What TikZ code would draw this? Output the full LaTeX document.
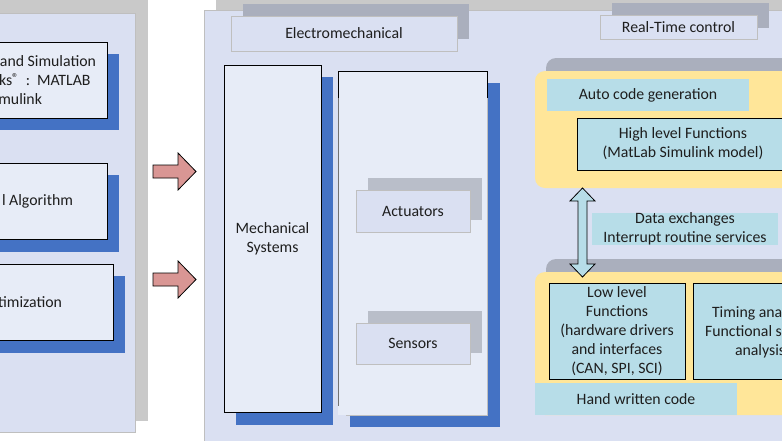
\documentclass[tikz,border=0pt]{standalone}
\usepackage{fontspec}
\setmainfont{Carlito}
\usetikzlibrary{fit}
\definecolor{panel}{HTML}{DAE0F2}
\definecolor{paper}{HTML}{E7ECF7}
\definecolor{pborder}{HTML}{BFBFBF}
\definecolor{bshadow}{HTML}{4472C4}
\definecolor{gshadow}{HTML}{C9C9C9}
\definecolor{lshadow}{HTML}{AAAFBD}
\definecolor{ashadow}{HTML}{B9BEC9}
\definecolor{yel}{HTML}{FFE699}
\definecolor{lblue}{HTML}{B7DDE8}
\definecolor{pinkarrow}{HTML}{D99694}
\definecolor{ink}{HTML}{1E1E1E}
\tikzset{
  base/.style={rectangle, inner sep=0pt, outer sep=0pt},
  gshad/.style={base, fill=gshadow},
  pnl/.style={base, fill=panel, draw=pborder, line width=0.8pt},
  bshad/.style={base, fill=bshadow},
  card/.style={base, fill=paper, draw=black, line width=0.9pt},
  lbl/.style={base, fill=panel, draw=pborder, line width=0.8pt},
  lshad/.style={base, fill=lshadow},
  ashad/.style={base, fill=ashadow},
  ybox/.style={base, fill=yel, rounded corners=10pt},
  yshad/.style={base, fill=lshadow, rounded corners=10pt},
  band/.style={base, fill=lblue},
  fbox/.style={base, fill=lblue, draw=black, line width=0.9pt},
  txt/.style={inner sep=0pt, outer sep=0pt, text=ink, font=\fontsize{15.8}{19}\selectfont, align=center},
  blockarrow/.style={fill=pinkarrow, draw=black, line width=0.8pt, line join=miter},
  dblarrow/.style={fill=lblue, draw=black, line width=0.8pt, line join=miter}
}
\newcommand{\regmark}{\raisebox{3pt}{\fontsize{13}{13}\selectfont ®}}
\begin{document}
\begin{tikzpicture}[x=1pt, y=-1pt]
\useasboundingbox (0,0) rectangle (782,440);
\clip (0,0) rectangle (782,440);
\fill[white] (0,0) rectangle (782,440);

% ---------- left panel ----------
\node[gshad, fit={(-20,-20) (148,421)}] (lsh) {};
\node[pnl, fit={(-20,13) (135,432)}] (lpanel) {};

\node[bshad, fit={(-20,54) (119,130)}] (s1) {};
\node[card, fit={(-20,42) (107,118)}] (b1) {};
\node[bshad, fit={(-20,175) (119,252)}] (s2) {};
\node[card, fit={(-20,163) (107,239)}] (b2) {};
\node[bshad, fit={(-20,276) (125,353)}] (s3) {};
\node[card, fit={(-20,264) (113,340)}] (b3) {};

\node[txt, anchor=base east] (t1a) at (96,66) {and Simulation};
\node[txt, anchor=base west] (t1b) at (-1,85) {ks\regmark\hspace{7pt}:\hspace{7pt}MATLAB};
\node[txt, anchor=base east] (t1c) at (42,104) {mulink};
\node[txt, anchor=base east] (t2) at (73,205.5) {l Algorithm};
\node[txt, anchor=base east] (t3) at (62,307) {timization};

% ---------- arrows between panels ----------
\draw[blockarrow] (153,165) -- (178,165) -- (178,153) -- (196,171.5) -- (178,190) -- (178,178) -- (153,178) -- cycle;
\draw[blockarrow] (153,273) -- (178,273) -- (178,261) -- (196,279.5) -- (178,298) -- (178,286) -- (153,286) -- cycle;

% ---------- right panel ----------
\node[gshad, fit={(216,-20) (800,10)}] (rsh) {};
\node[pnl, fit={(204,10) (800,460)}] (rpanel) {};

\node[lshad, fit={(243,4) (469,39)}] (emsh) {};
\node[lbl, fit={(231,16) (457,51)}] (em) {};
\node[txt] (emt) at (344,33.5) {Electromechanical};

\node[lshad, fit={(612,3) (769,28)}] (rtsh) {};
\node[lbl, fit={(600,15) (757,39)}] (rt) {};
\node[txt] (rtt) at (678.5,27) {Real-Time control};

% mechanical systems
\node[bshad, fit={(236,77) (333,425)}] (mechsh) {};
\node[card, fit={(224,65) (321,412)}] (mech) {};
\node[txt] (mecht) at (272.5,238.5) {Mechanical\\Systems};

% actuators / sensors container
\node[bshad, fit={(350,83) (500,427)}] (contsh) {};
\node[base, fill=paper, fit={(338,71) (487,415)}] (cont) {};
\draw[pborder, line width=0.6pt] (487,98) -- (cont.south east) -- (346,415);
\draw[black, line width=0.9pt] (338,98) -- (cont.north west) -- (cont.north east) -- (487,98);
\draw[black!55, line width=0.9pt] (338,98) -- (338,406);

\node[ashad, fit={(368,178) (482,220)}] (actsh) {};
\node[lbl, fit={(356,190) (470,232)}] (act) {};
\node[txt] (actt) at (413,211) {Actuators};

\node[ashad, fit={(368,311) (482,353)}] (sensh) {};
\node[lbl, fit={(356,323) (470,364)}] (sen) {};
\node[txt] (sent) at (413,343.5) {Sensors};

% ---------- real-time part ----------
\node[yshad, fit={(546,58) (810,176)}] (upsh) {};
\node[ybox, fit={(535,71) (810,188)}] (up) {};
\node[band, fit={(547,79) (749,111)}] (auto) {};
\node[txt] (autot) at (648,95) {Auto code generation};
\node[fbox, fit={(577,118) (789,170)}] (high) {};
\node[txt] (hight) at (683,144) {High level Functions\\(MatLab Simulink model)};

\node[band, fit={(592,213) (778,245)}] (data) {};
\node[txt] (datat) at (685,229) {Data exchanges\\Interrupt routine services};

\node[yshad, fit={(546,259) (810,400)}] (lowsh) {};
\node[ybox, fit={(535,272) (810,415)}] (low) {};
\node[fbox, fit={(549,283) (685,379)}] (llf) {};
\node[txt] (llft) at (617,331) {Low level\\Functions\\(hardware drivers\\and interfaces\\(CAN, SPI, SCI)};
\node[fbox, fit={(693,283) (810,379)}] (tim) {};
\node[txt, anchor=base west] (tim1) at (712,317) {Timing ana};
\node[txt, anchor=base west] (tim2) at (705,336) {Functional s};
\node[txt, anchor=base west] (tim3) at (735,355) {analysis};
\node[band, fit={(535,383) (737,415)}] (hand) {};
\node[txt] (handt) at (636,399) {Hand written code};

% double arrow between the two yellow blocks
\draw[dblarrow] (582.5,188) -- (595,201) -- (587,201) -- (587,264) -- (595,264) -- (582.5,277)
  -- (570,264) -- (578,264) -- (578,201) -- (570,201) -- cycle;
\end{tikzpicture}
\end{document}
